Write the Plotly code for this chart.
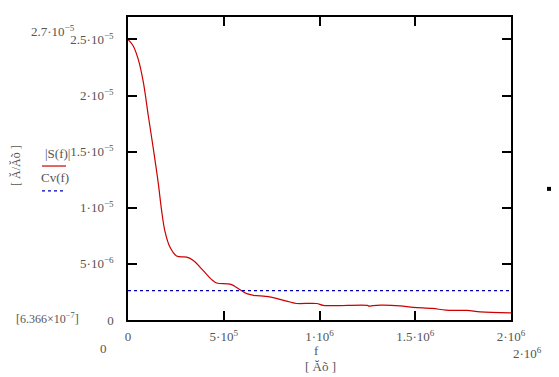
import plotly.graph_objects as go

# Data
f_vals = [0, 2.8e4, 5.4e4, 8.0e4, 1.06e5, 1.32e5, 1.58e5, 1.76e5, 1.93e5, 2.19e5,
          2.54e5, 3.07e5, 3.41e5, 3.93e5, 4.37e5, 4.63e5, 5.33e5, 5.67e5, 6.2e5,
          6.55e5, 7.4e5, 8.46e5, 8.8e5, 9.85e5, 1.02e6, 1.25e6, 1.26e6, 1.28e6,
          1.32e6, 1.42e6, 1.49e6, 1.59e6, 1.66e6, 1.77e6, 1.84e6, 2.0e6]
S_vals = [2.5e-5, 2.44e-5, 2.32e-5, 2.12e-5, 1.82e-5, 1.53e-5, 1.22e-5, 9.7e-6, 7.9e-6, 6.5e-6,
          5.7e-6, 5.6e-6, 5.3e-6, 4.4e-6, 3.6e-6, 3.3e-6, 3.2e-6, 2.9e-6, 2.35e-6,
          2.2e-6, 2.06e-6, 1.6e-6, 1.47e-6, 1.47e-6, 1.3e-6, 1.3e-6, 1.23e-6, 1.28e-6,
          1.32e-6, 1.26e-6, 1.12e-6, 1.03e-6, 0.88e-6, 0.85e-6, 0.72e-6, 0.6366e-6]
cv_f = [0, 2.0e6]
cv_vals = [2.62e-6, 2.62e-6]

x_tickvals = [0, 5e5, 1e6, 1.5e6, 2e6]
x_ticktext = ["0", "5·10<sup>5</sup>", "1·10<sup>6</sup>", "1.5·10<sup>6</sup>", "2·10<sup>6</sup>"]
y_tickvals = [0, 5e-6, 1e-5, 1.5e-5, 2e-5, 2.5e-5]
y_ticktext = ["0", "5·10<sup>−6</sup>", "1·10<sup>−5</sup>", "1.5·10<sup>−5</sup>",
              "2·10<sup>−5</sup>", "2.5·10<sup>−5</sup>"]

GREY = "#555555"
FONT = "Liberation Serif, Times New Roman, serif"

# page is offset by the browser's 8px body margin
OFF = 8
W, H = 559 - OFF, 377 - OFF
L, R, T, B = 128 - OFF, 559 - 511, 15 - OFF, 377 - 320
pw, ph = W - L - R, H - T - B

def px(x):
    return (x - OFF - L) / pw
def py(y):
    return (H - B - (y - OFF)) / ph

fig = go.Figure()
fig.add_trace(go.Scatter(x=f_vals, y=S_vals, mode="lines",
                         line=dict(color="#cc0000", width=1.2), line_shape="spline",
                         showlegend=False))
fig.add_trace(go.Scatter(x=cv_f, y=cv_vals, mode="lines",
                         line=dict(color="#0000b0", width=1.2, dash="3px,3px"),
                         showlegend=False))

axis_common = dict(showline=True, linecolor="black", linewidth=1.5, mirror="allticks",
                   ticks="inside", ticklen=9, tickcolor="black", tickwidth=1.5,
                   showgrid=False, zeroline=False,
                   tickfont=dict(family=FONT, size=13, color=GREY))

fig.update_xaxes(range=[0, 2e6], tickmode="array", tickvals=x_tickvals,
                 ticktext=x_ticktext, ticklabelstandoff=4, **axis_common)
fig.update_yaxes(range=[0, 2.7e-5], tickmode="array", tickvals=y_tickvals,
                 ticktext=y_ticktext, ticklabelstandoff=10, **axis_common)

ann = []
def txt(x, y, s, size=13, xanchor="center", yanchor="middle", angle=0):
    ann.append(dict(x=x, y=y, xref="paper", yref="paper", text=s, showarrow=False,
                    xanchor=xanchor, yanchor=yanchor, textangle=angle,
                    font=dict(family=FONT, size=size, color=GREY)))

txt(px(53), py(29), "2.7·10<sup>−5</sup>")
txt(px(47), py(318), "[6.366×10<sup>−7</sup>]", size=12)
txt(px(103), py(349), "0")
txt(px(527), py(353), "2·10<sup>6</sup>")
txt(px(316), py(351), "f")
txt(px(320), py(367), "[ Ăõ ]")
txt(px(57), py(152), "|S(f)|")
txt(px(55), py(177), "Cv(f)")
txt(px(16), py(165), "[ Ă/Ăõ ]", size=12, angle=-90)

shapes = [
    dict(type="line", xref="paper", yref="paper", x0=px(42), x1=px(66), y0=py(165), y1=py(165),
         line=dict(color="#cc0000", width=1.2)),
    dict(type="line", xref="paper", yref="paper", x0=px(42), x1=px(66), y0=py(190), y1=py(190),
         line=dict(color="#0000b0", width=1.2, dash="3px,3px")),
    dict(type="line", xref="paper", yref="paper", x0=px(552), x1=px(552), y0=py(OFF), y1=py(377),
         line=dict(color="black", width=1.5)),
    dict(type="rect", xref="paper", yref="paper", x0=px(547), x1=px(551), y0=py(186), y1=py(190),
         fillcolor="black", line=dict(width=0)),
]

fig.update_layout(width=W, height=H, margin=dict(l=L, r=R, t=T, b=B),
                  paper_bgcolor="white", plot_bgcolor="white",
                  annotations=ann, shapes=shapes, showlegend=False)
fig.write_html("out.html")
